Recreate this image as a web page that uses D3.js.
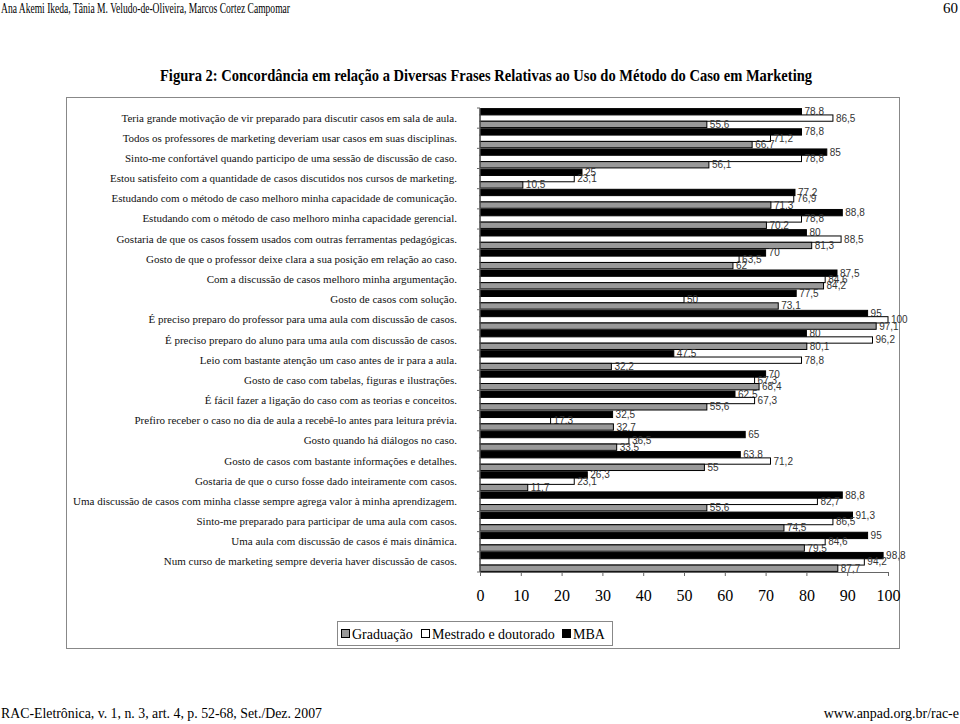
<!DOCTYPE html>
<html>
<head>
<meta charset="utf-8">
<script src="https://cdn.jsdelivr.net/npm/d3@7"></script>
<style>
  body { margin: 0; background: #fff; }
  svg { display: block; }
  .serif { font-family: "Liberation Serif", "Times New Roman", serif; }
  .val { font-family: "Liberation Sans", Arial, sans-serif; font-size: 10px; fill: #333; }
</style>
</head>
<body>
<script>
(function () {

    //categories, top to bottom
    var categories = [
        "Teria grande motivação de vir preparado para discutir casos em sala de aula.",
        "Todos os professores de marketing deveriam usar casos em suas disciplinas.",
        "Sinto-me confortável quando participo de uma sessão de discussão de caso.",
        "Estou satisfeito com a quantidade de casos discutidos nos cursos de marketing.",
        "Estudando com o método de caso melhoro minha capacidade de comunicação.",
        "Estudando com o método de caso melhoro minha capacidade gerencial.",
        "Gostaria de que os casos fossem usados com outras ferramentas pedagógicas.",
        "Gosto de que o professor deixe clara a sua posição em relação ao caso.",
        "Com a discussão de casos melhoro minha argumentação.",
        "Gosto de casos com solução.",
        "É preciso preparo do professor para uma aula com discussão de casos.",
        "É preciso preparo do aluno para uma aula com discussão de casos.",
        "Leio com bastante atenção um caso antes de ir para a aula.",
        "Gosto de caso com tabelas, figuras e ilustrações.",
        "É fácil fazer a ligação do caso com as teorias e conceitos.",
        "Prefiro receber o caso no dia de aula a recebê-lo antes para leitura prévia.",
        "Gosto quando há diálogos no caso.",
        "Gosto de casos com bastante informações e detalhes.",
        "Gostaria de que o curso fosse dado inteiramente com casos.",
        "Uma discussão de casos com minha classe sempre agrega valor à minha aprendizagem.",
        "Sinto-me preparado para participar de uma aula com casos.",
        "Uma aula com discussão de casos é mais dinâmica.",
        "Num curso de marketing sempre deveria haver discussão de casos."
    ];

    //series values (%)
    var mba = [78.8, 78.8, 85, 25, 77.2, 88.8, 80, 70, 87.5, 77.5, 95, 80, 47.5, 70, 62.5, 32.5, 65, 63.8, 26.3, 88.8, 91.3, 95, 98.8];
    var mestrado = [86.5, 71.2, 78.8, 23.1, 76.9, 78.8, 88.5, 63.5, 84.6, 50, 100, 96.2, 78.8, 67.3, 67.3, 17.3, 36.5, 71.2, 23.1, 82.7, 86.5, 84.6, 94.2];
    var graduacao = [55.6, 66.7, 56.1, 10.5, 71.3, 70.2, 81.3, 62, 84.2, 73.1, 97.1, 80.1, 32.2, 68.4, 55.6, 32.7, 33.5, 55, 11.7, 55.6, 74.5, 79.5, 87.7];

    var seriesNames = ["MBA", "Mestrado e doutorado", "Graduação"];
    var legendOrder = ["Graduação", "Mestrado e doutorado", "MBA"];
    var xTicks = [0, 10, 20, 30, 40, 50, 60, 70, 80, 90, 100];

    var fills = { "MBA": "#000", "Mestrado e doutorado": "#fff", "Graduação": "#999" };
    var seriesData = { "MBA": mba, "Mestrado e doutorado": mestrado, "Graduação": graduacao };

    var width = 960, height = 724;
    var svg = d3.select("body").append("svg")
        .attr("width", width)
        .attr("height", height);

    //page header and footer
    svg.append("text").attr("class", "serif")
        .attr("x", 1).attr("y", 13)
        .attr("font-size", 15)
        .attr("textLength", 289).attr("lengthAdjust", "spacingAndGlyphs")
        .text("Ana Akemi Ikeda, Tânia M. Veludo-de-Oliveira, Marcos Cortez Campomar");
    svg.append("text").attr("class", "serif")
        .attr("x", 958).attr("y", 13)
        .attr("font-size", 15).attr("text-anchor", "end")
        .text("60");
    svg.append("text").attr("class", "serif")
        .attr("x", 486).attr("y", 81)
        .attr("font-size", 16).attr("font-weight", "bold")
        .attr("text-anchor", "middle")
        .attr("textLength", 652).attr("lengthAdjust", "spacingAndGlyphs")
        .text("Figura 2: Concordância em relação a Diversas Frases Relativas ao Uso do Método do Caso em Marketing");
    svg.append("text").attr("class", "serif")
        .attr("x", 1).attr("y", 718)
        .attr("font-size", 14)
        .attr("textLength", 321).attr("lengthAdjust", "spacingAndGlyphs")
        .text("RAC-Eletrônica, v. 1, n. 3, art. 4, p. 52-68, Set./Dez. 2007");
    svg.append("text").attr("class", "serif")
        .attr("x", 959).attr("y", 718)
        .attr("font-size", 14).attr("text-anchor", "end")
        .text("www.anpad.org.br/rac-e");

    //chart frame
    svg.append("rect")
        .attr("x", 66.5).attr("y", 97.5)
        .attr("width", 833).attr("height", 551)
        .attr("fill", "none").attr("stroke", "#888");

    //scales
    var x = d3.scaleLinear().domain([0, 100]).range([480, 888]);
    var y = d3.scaleBand().domain(d3.range(categories.length)).range([108, 572]).paddingInner(0.06).paddingOuter(0.03);
    var ySub = d3.scaleBand().domain(seriesNames).range([0, y.bandwidth()]);

    //bars
    var groups = svg.selectAll(".grp")
        .data(categories)
        .enter()
        .append("g")
        .attr("class", "grp")
        .attr("transform", function (d, i) { return "translate(0," + y(i) + ")"; });

    seriesNames.forEach(function (s) {
        groups.append("rect")
            .attr("x", x(0))
            .attr("y", ySub(s))
            .attr("width", function (d, i) { return x(seriesData[s][i]) - x(0); })
            .attr("height", ySub.bandwidth())
            .attr("fill", fills[s])
            .attr("stroke", "#000")
            .attr("stroke-width", 1);

        groups.append("text")
            .attr("class", "val")
            .attr("x", function (d, i) { return x(seriesData[s][i]) + 3; })
            .attr("y", ySub(s) + ySub.bandwidth() / 2 + 3.5)
            .text(function (d, i) { return String(seriesData[s][i]).replace(".", ","); });
    });

    //category labels
    svg.selectAll(".cat")
        .data(categories)
        .enter()
        .append("text")
        .attr("class", "cat serif")
        .attr("x", 457)
        .attr("y", function (d, i) { return y(i) + y.bandwidth() / 2 + 3.5; })
        .attr("font-size", 11)
        .attr("text-anchor", "end")
        .attr("fill", "#111")
        .text(function (d) { return d; });

    //vertical axis with ticks between categories
    var yEdges = d3.range(categories.length + 1).map(function (i) {
        return 108 + i * (572 - 108) / categories.length;
    });
    svg.append("line")
        .attr("x1", 480).attr("x2", 480)
        .attr("y1", 108).attr("y2", 572)
        .attr("stroke", "#666");
    svg.selectAll(".ytick")
        .data(yEdges)
        .enter()
        .append("line")
        .attr("x1", 477).attr("x2", 480)
        .attr("y1", function (d) { return d; }).attr("y2", function (d) { return d; })
        .attr("stroke", "#666");

    //horizontal axis
    var xAxis = d3.axisBottom(x).tickValues(xTicks).tickSize(4).tickPadding(14);
    var axis = svg.append("g")
        .attr("transform", "translate(0,572)")
        .call(xAxis);
    axis.select(".domain").attr("stroke", "#666");
    axis.selectAll(".tick line").attr("stroke", "#666");
    axis.selectAll(".tick text")
        .attr("class", "serif")
        .attr("font-size", 16)
        .attr("fill", "#000");

    //legend
    var legend = svg.append("g");
    legend.append("rect")
        .attr("x", 337.5).attr("y", 621.5)
        .attr("width", 275).attr("height", 24)
        .attr("fill", "#fff").attr("stroke", "#888");
    var legX = [341, 421, 562];
    legendOrder.forEach(function (s, i) {
        legend.append("rect")
            .attr("x", legX[i] + 0.5).attr("y", 629.5)
            .attr("width", 8).attr("height", 8)
            .attr("fill", fills[s]).attr("stroke", "#000");
        legend.append("text")
            .attr("class", "serif")
            .attr("x", legX[i] + 11).attr("y", 639)
            .attr("font-size", 14)
            .text(s);
    });
})();
</script>
</body>
</html>
